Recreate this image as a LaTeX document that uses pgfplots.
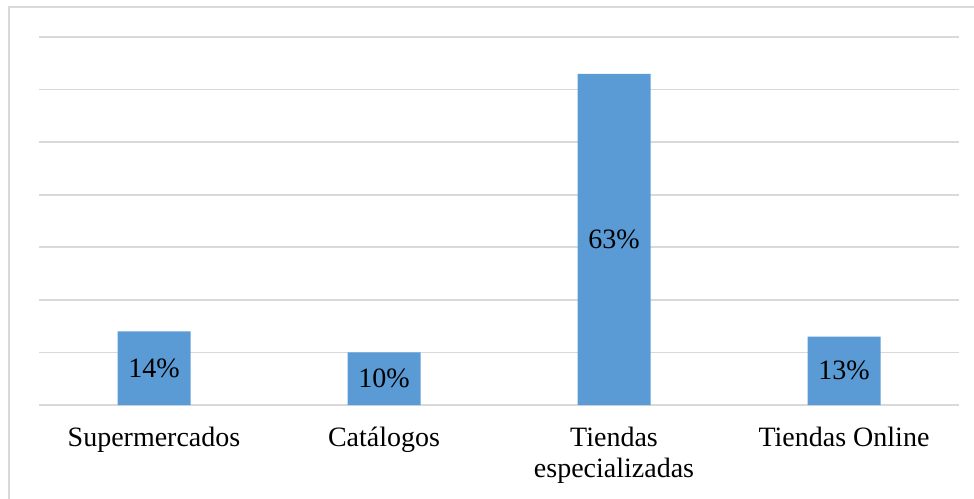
\documentclass[border=0pt]{standalone}
\usepackage{pgfplots}
\pgfplotsset{compat=1.18}
\usepackage{pgfplotstable}
\usepackage{fontspec}
\setmainfont{Liberation Serif}
\definecolor{barblue}{HTML}{5B9BD5}
\definecolor{gridgray}{HTML}{D9D9D9}
\pgfplotstableread{
x y label
0 14 14\%
1 10 10\%
2 63 63\%
3 13 13\%
}\datatable
\begin{document}
\begin{tikzpicture}
\draw[gridgray, line width=0.8pt] (4.5pt,-20pt) rectangle (510pt,245.5pt);
\begin{axis}[
  at={(19.5pt,46.5pt)}, anchor=south west,
  scale only axis, width=460pt, height=184pt,
  xmin=-0.5, xmax=3.5, ymin=0, ymax=70,
  ytick={0,10,...,70}, yticklabels={},
  ymajorgrids, grid style={gridgray, line width=0.8pt},
  xtick={0,1,2,3},
  xticklabels={Supermercados, Catálogos, Tiendas\\especializadas, Tiendas Online},
  xticklabel style={align=center, anchor=north, inner sep=0pt, yshift=-11pt,
    font=\fontsize{14}{15.5}\selectfont},
  major tick length=0pt,
  axis line style={draw=none},
  clip=false,
]
\addplot[ybar, bar width=36.5pt, fill=barblue, draw=none] table[x=x, y=y] {\datatable};
\addplot[draw=none, mark=none, nodes near coords, point meta=explicit symbolic,
  every node near coord/.style={anchor=center, inner sep=0pt, font=\fontsize{14}{16}\selectfont}]
  table[x=x, y expr=\thisrow{y}/2, meta=label] {\datatable};
\end{axis}
\pgfresetboundingbox
\useasboundingbox (0,0) rectangle (487pt,249pt);
\end{tikzpicture}
\end{document}
